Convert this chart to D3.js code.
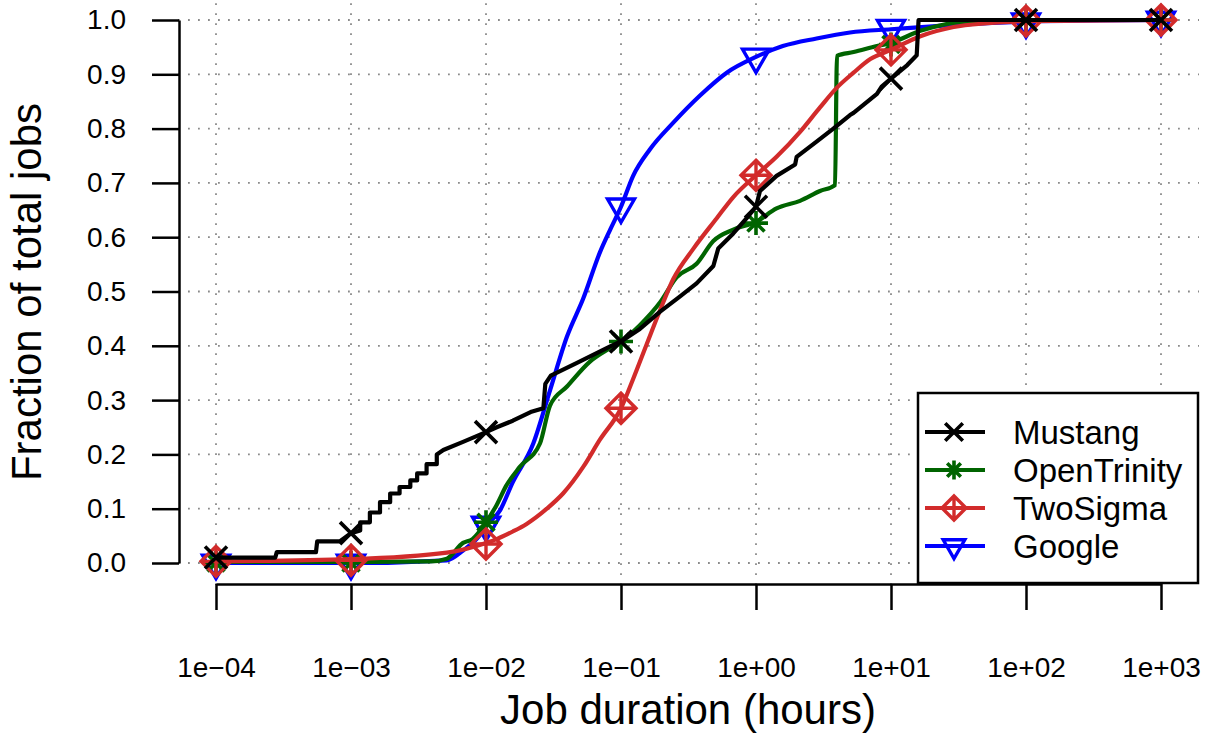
<!DOCTYPE html>
<html>
<head>
<meta charset="utf-8">
<script src="https://cdn.jsdelivr.net/npm/d3@7"></script>
<style>
  html, body { margin: 0; padding: 0; background: #fff; }
  svg { display: block; font-family: "Liberation Sans", Arial, Helvetica, sans-serif; }
</style>
</head>
<body>
<svg id="chart" width="1209" height="736"></svg>
<script>
// ---------- data (x = job duration in hours, y = cumulative fraction) ----------
const seriesNames = ["Mustang", "OpenTrinity", "TwoSigma", "Google"];
const seriesColors = ["#000000", "#006400", "#D22B2B", "#0000FF"];

const mustangX = [1e-4, 2.75e-4, 2.82e-4, 5.5e-4, 5.62e-4, 8.3e-4, 1e-3, 1.17e-3, 1.17e-3, 1.38e-3, 1.38e-3, 1.64e-3, 1.64e-3,
  1.95e-3, 1.95e-3, 2.29e-3, 2.29e-3, 2.75e-3, 2.75e-3, 3.09e-3, 3.09e-3, 3.63e-3, 3.63e-3, 4.32e-3, 4.32e-3, 4.83e-3,
  6.76e-3, 0.01, 0.012, 0.0158, 0.0214, 0.0266, 0.0275, 0.0302, 0.0468, 0.0832, 0.1, 0.138, 0.195, 0.274, 0.363, 0.483,
  0.525, 0.679, 0.853, 1, 1.07, 1.42, 1.95, 2.0, 2.81, 3.74, 4.97, 5.28, 7.87, 8.57, 10, 13.2, 15.5, 16.0, 100, 1000];
const mustangY = [0.01, 0.01, 0.02, 0.02, 0.04, 0.04, 0.055, 0.06, 0.075, 0.075, 0.093, 0.093, 0.112,
  0.112, 0.128, 0.128, 0.14, 0.14, 0.152, 0.152, 0.165, 0.165, 0.182, 0.182, 0.2, 0.208,
  0.223, 0.241, 0.25, 0.262, 0.278, 0.285, 0.33, 0.345, 0.368, 0.399, 0.408, 0.431, 0.463, 0.491, 0.515, 0.547,
  0.579, 0.607, 0.635, 0.656, 0.685, 0.713, 0.734, 0.748, 0.776, 0.8, 0.825, 0.829, 0.864, 0.878, 0.892, 0.917, 0.935, 1.0, 1.0, 1.0];

const trinityX = [1e-4, 1e-3, 3.89e-3, 5.13e-3, 6.76e-3, 7.94e-3, 0.01, 0.012, 0.0141, 0.0178, 0.0251, 0.0298, 0.0398,
  0.0589, 0.0832, 0.1, 0.138, 0.195, 0.258, 0.363, 0.483, 0.679, 1, 1.42, 2.12, 2.98, 3.85, 3.98, 5.28, 7.87, 10,
  16.5, 38.9, 100, 1000];
const trinityY = [0.002, 0.002, 0.003, 0.008, 0.037, 0.044, 0.075, 0.107, 0.142, 0.177, 0.22, 0.29, 0.325,
  0.371, 0.396, 0.408, 0.438, 0.48, 0.526, 0.551, 0.593, 0.614, 0.628, 0.653, 0.667, 0.685, 0.696, 0.934, 0.941, 0.952, 0.958,
  0.98, 0.998, 1.0, 1.0];

const twoSigmaX = [1e-4, 1e-3, 5.13e-3, 0.01, 0.012, 0.0158, 0.02, 0.0282, 0.0372, 0.0525, 0.0698, 0.1, 0.123, 0.155,
  0.195, 0.244, 0.344, 0.512, 0.679, 1, 1.42, 2.12, 2.98, 3.96, 5.28, 7.03, 10, 16.5, 29.1, 51.3, 100, 1000];
const twoSigmaY = [0.003, 0.007, 0.019, 0.037, 0.044, 0.058, 0.072, 0.1, 0.128, 0.177, 0.227, 0.285, 0.339, 0.403,
  0.466, 0.523, 0.579, 0.635, 0.674, 0.714, 0.748, 0.794, 0.839, 0.875, 0.903, 0.928, 0.945, 0.97, 0.987, 0.994, 0.998, 1.0];

const googleX = [1e-4, 1e-3, 5.13e-3, 6.76e-3, 8.91e-3, 0.01, 0.0127, 0.0158, 0.0224, 0.0298, 0.0398, 0.0525, 0.0698,
  0.0832, 0.1, 0.123, 0.164, 0.244, 0.385, 0.607, 1, 1.58, 2.81, 4.97, 10, 100, 1000];
const googleY = [0.0, 0.0, 0.005, 0.023, 0.05, 0.068, 0.097, 0.149, 0.22, 0.318, 0.417, 0.487, 0.572,
  0.614, 0.656, 0.713, 0.762, 0.811, 0.861, 0.903, 0.932, 0.952, 0.966, 0.977, 0.983, 0.997, 1.0];

// marker positions (one per decade)
const markerX = [1e-4, 1e-3, 1e-2, 1e-1, 1e0, 1e1, 1e2, 1e3];
const mustangMarkers = [0.01, 0.055, 0.241, 0.408, 0.656, 0.892, 1.0, 1.0];
const trinityMarkers = [0.0, 0.0, 0.075, 0.408, 0.626, 0.955, 1.0, 1.0];
const twoSigmaMarkers = [0.003, 0.005, 0.035, 0.285, 0.714, 0.945, 0.998, 1.0];
const googleMarkers = [0.0, 0.0, 0.07, 0.656, 0.932, 0.985, 0.997, 1.0];

// ticks
const xTickValues = [1e-4, 1e-3, 1e-2, 1e-1, 1e0, 1e1, 1e2, 1e3];
const xTickLabels = ["1e\u221204", "1e\u221203", "1e\u221202", "1e\u221201", "1e+00", "1e+01", "1e+02", "1e+03"];
const yTickValues = [0, 0.1, 0.2, 0.3, 0.4, 0.5, 0.6, 0.7, 0.8, 0.9, 1.0];
const yTickLabels = ["0.0", "0.1", "0.2", "0.3", "0.4", "0.5", "0.6", "0.7", "0.8", "0.9", "1.0"];

// ---------- chart ----------
const svg = d3.select("#chart");
const x = d3.scaleLog().domain([1e-4, 1e3]).range([216, 1161]);
const y = d3.scaleLinear().domain([0, 1]).range([563, 20]);
const plotLeft = 178, plotRight = 1199, plotTop = -2, plotBottom = 585;

// grid
const grid = svg.append("g").attr("stroke", "#8a8a8a").attr("stroke-width", 1.8)
  .attr("stroke-dasharray", "1.8 8.2");
grid.selectAll("line.v").data(xTickValues).enter().append("line")
  .attr("x1", d => x(d)).attr("x2", d => x(d)).attr("y1", plotBottom).attr("y2", plotTop);
grid.selectAll("line.h").data(yTickValues).enter().append("line")
  .attr("x1", plotLeft).attr("x2", plotRight).attr("y1", d => y(d)).attr("y2", d => y(d));

// axes
const xAxis = d3.axisBottom(x).tickValues(xTickValues)
  .tickFormat((d, i) => xTickLabels[i]).tickSize(26).tickSizeOuter(0).tickPadding(47);
const gx = svg.append("g").attr("transform", "translate(0,584)").call(xAxis);
const yAxis = d3.axisLeft(y).tickValues(yTickValues)
  .tickFormat((d, i) => yTickLabels[i]).tickSize(27).tickSizeOuter(0).tickPadding(26);
const gy = svg.append("g").attr("transform", "translate(179,0)").call(yAxis);
[gx, gy].forEach(g => {
  g.selectAll("path.domain").attr("stroke", "#000").attr("stroke-width", 2.5);
  g.selectAll(".tick line").attr("stroke", "#000").attr("stroke-width", 2.5);
  g.selectAll(".tick text").attr("fill", "#000").style("font-size", "28px")
    .style("font-family", "'Liberation Sans', Arial, sans-serif");
});

// axis titles
svg.append("text").attr("x", 688).attr("y", 724).attr("text-anchor", "middle")
  .style("font-size", "42px").text("Job duration (hours)");
svg.append("text").attr("transform", "translate(41,292) rotate(-90)").attr("text-anchor", "middle")
  .style("font-size", "42px").text("Fraction of total jobs");

// marker drawing
function drawMarker(g, type, cx, cy, color, scale) {
  const s = scale || 1;
  const m = g.append("g").attr("transform", `translate(${cx},${cy})`)
    .attr("stroke", color).attr("fill", "none").attr("stroke-width", 3.6);
  if (type === "x") {
    const h = 11 * s;
    m.append("path").attr("d", `M${-h},${-h}L${h},${h}M${-h},${h}L${h},${-h}`);
  } else if (type === "star") {
    const h = 12 * s, d = 8.5 * s;
    m.append("path").attr("d", `M${-h},0L${h},0M0,${-h}L0,${h}M${-d},${-d}L${d},${d}M${-d},${d}L${d},${-d}`);
  } else if (type === "diamond") {
    const h = 15 * s;
    m.append("path").attr("d", `M0,${-h}L${h},0L0,${h}L${-h},0Z M${-h},0L${h},0M0,${-h}L0,${h}`)
      .attr("stroke-width", 3.4);
  } else if (type === "tri") {
    const r = 15.6 * s, xc = 13.5 * s, yc = 7.8 * s;
    m.append("path").attr("d", `M${-xc},${-yc}L${xc},${-yc}L0,${r}Z`).attr("stroke-width", 3.4);
  }
}

const series = [
  { name: "Mustang", xs: mustangX, ys: mustangY, mk: mustangMarkers, color: seriesColors[0], type: "x", smooth: false },
  { name: "OpenTrinity", xs: trinityX, ys: trinityY, mk: trinityMarkers, color: seriesColors[1], type: "star", smooth: true },
  { name: "TwoSigma", xs: twoSigmaX, ys: twoSigmaY, mk: twoSigmaMarkers, color: seriesColors[2], type: "diamond", smooth: true },
  { name: "Google", xs: googleX, ys: googleY, mk: googleMarkers, color: seriesColors[3], type: "tri", smooth: true }
];

const lineLinear = d3.line().x(d => x(d[0])).y(d => y(d[1])).curve(d3.curveLinear);
const lineSmooth = d3.line().x(d => x(d[0])).y(d => y(d[1])).curve(d3.curveMonotoneX);
const drawOrder = [3, 1, 2, 0];
drawOrder.forEach(i => {
  const s = series[i];
  const pts = s.xs.map((v, k) => [v, s.ys[k]]);
  svg.append("path").datum(pts).attr("d", s.smooth ? lineSmooth : lineLinear).attr("fill", "none")
    .attr("stroke", s.color).attr("stroke-width", 4.2).attr("stroke-linejoin", "round");
  const mg = svg.append("g");
  markerX.forEach((mx, k) => drawMarker(mg, s.type, x(mx), y(s.mk[k]), s.color));
});

// legend
const lg = svg.append("g");
lg.append("rect").attr("x", 918).attr("y", 393).attr("width", 280).attr("height", 190)
  .attr("fill", "#fff").attr("stroke", "#000").attr("stroke-width", 2.5);
const rowY = [432, 470, 508, 546];
series.forEach((s, i) => {
  lg.append("line").attr("x1", 925).attr("x2", 985).attr("y1", rowY[i]).attr("y2", rowY[i])
    .attr("stroke", s.color).attr("stroke-width", 4.2);
  drawMarker(lg, s.type, 954, rowY[i], s.color, 0.8);
  lg.append("text").attr("x", 1013).attr("y", rowY[i] + 12).style("font-size", "33px").text(s.name);
});
</script>
</body>
</html>
